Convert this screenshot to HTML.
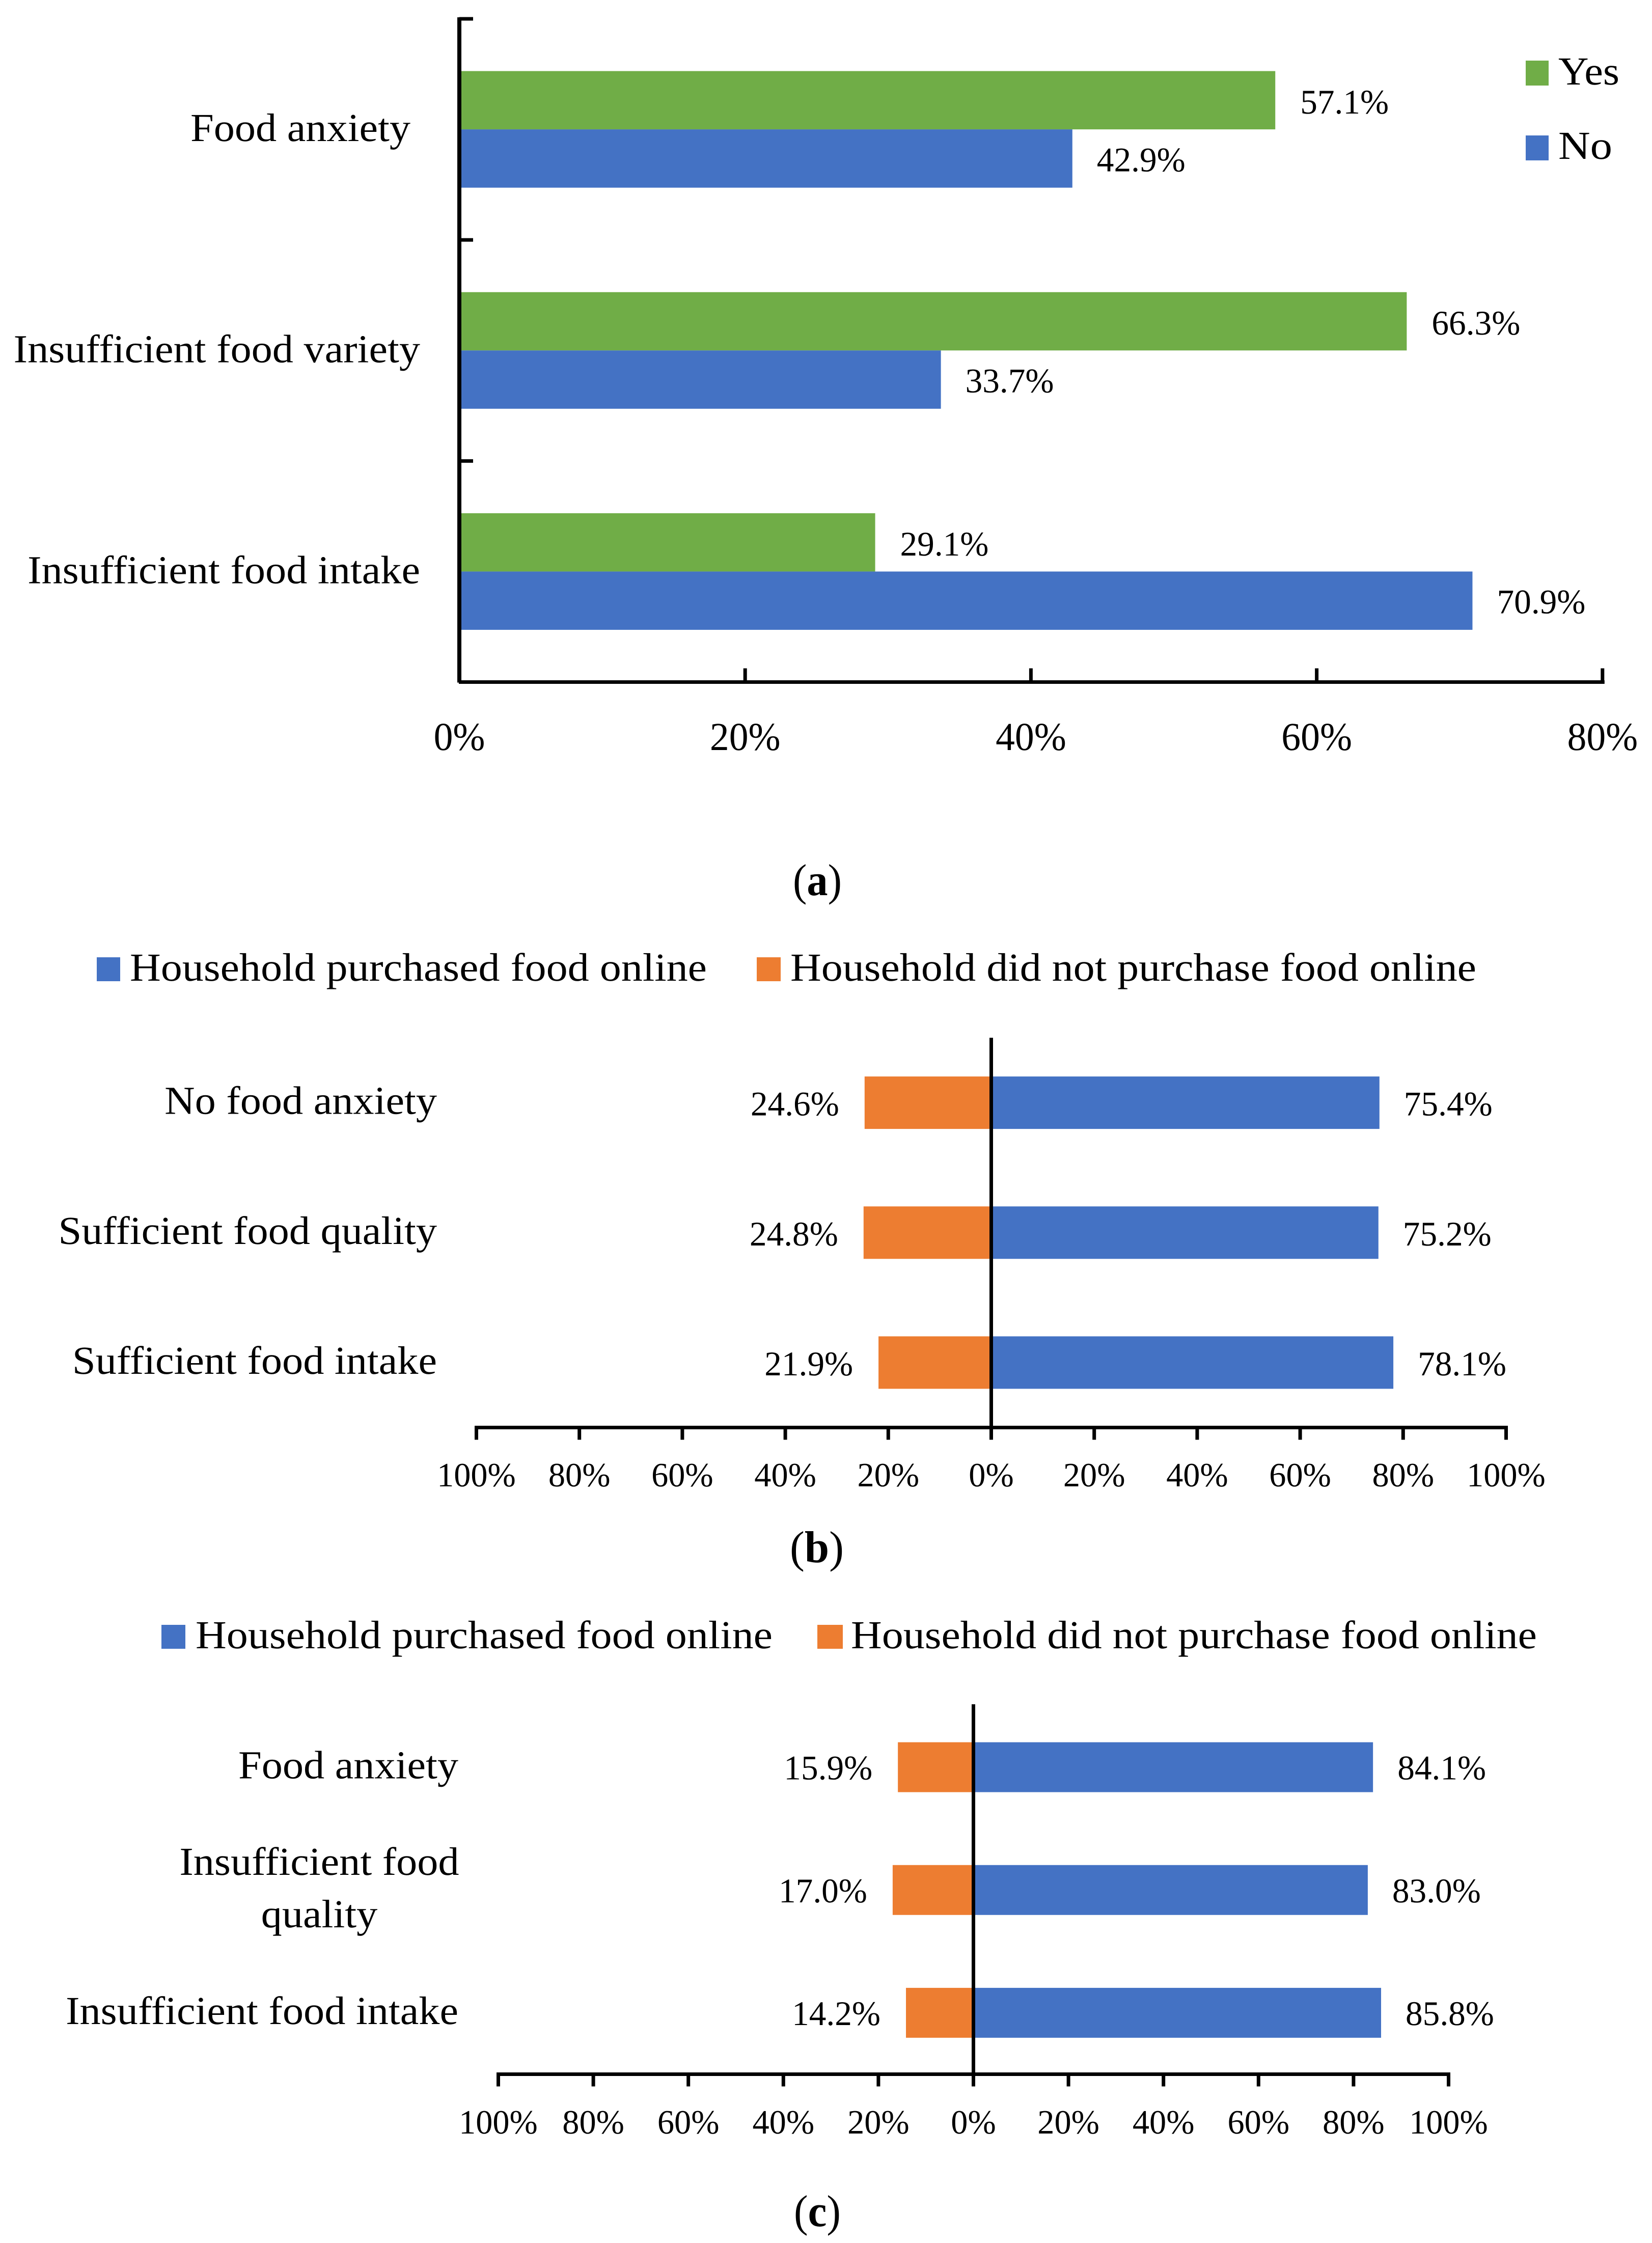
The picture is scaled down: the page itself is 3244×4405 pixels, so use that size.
<!DOCTYPE html>
<html lang="en">
<head>
<meta charset="utf-8">
<title>Food security and online food purchasing charts</title>
<style>
html,body{margin:0;padding:0;background:#fff;}
svg{display:block;}
text{font-family:"Liberation Serif","Noto Serif CJK SC",serif;fill:#000;text-rendering:geometricPrecision;}
</style>
</head>
<body>
<svg id="figure" xmlns="http://www.w3.org/2000/svg" width="3244" height="4405" viewBox="0 0 3244 4405">
  <rect width="3244" height="4405" fill="#fff"/>
  <g>
    <rect x="2996" y="119" width="45" height="49" fill="#70AD47"/>
    <text x="3060" y="166" font-size="78" textLength="120" lengthAdjust="spacingAndGlyphs">Yes</text>
    <rect x="2996" y="266" width="45" height="49" fill="#4472C4"/>
    <text x="3060" y="312" font-size="78" textLength="106" lengthAdjust="spacingAndGlyphs">No</text>
  </g>
  <text x="1557" y="1758" font-size="88" textLength="96" lengthAdjust="spacingAndGlyphs">(<tspan font-weight="700">a</tspan>)</text>
  <g>
    <rect x="190" y="1880" width="46" height="47" fill="#4472C4"/>
    <text x="255" y="1926" font-size="78" textLength="1133" lengthAdjust="spacingAndGlyphs">Household purchased food online</text>
    <rect x="1486" y="1880" width="47" height="47" fill="#ED7D31"/>
    <text x="1552" y="1926" font-size="78" textLength="1347" lengthAdjust="spacingAndGlyphs">Household did not purchase food online</text>
  </g>
  <text x="1551" y="3068" font-size="88" textLength="106" lengthAdjust="spacingAndGlyphs">(<tspan font-weight="700">b</tspan>)</text>
  <g>
    <rect x="317" y="3191" width="47" height="47" fill="#4472C4"/>
    <text x="384" y="3237" font-size="78" textLength="1133" lengthAdjust="spacingAndGlyphs">Household purchased food online</text>
    <rect x="1605" y="3191" width="50" height="47" fill="#ED7D31"/>
    <text x="1671" y="3237" font-size="78" textLength="1347" lengthAdjust="spacingAndGlyphs">Household did not purchase food online</text>
  </g>
  <text x="1559" y="4372" font-size="88" textLength="92" lengthAdjust="spacingAndGlyphs">(<tspan font-weight="700">c</tspan>)</text>
</svg>
<script>
// ---- Panel (a) data ----
const categoriesA = ['Food anxiety', 'Insufficient food variety', 'Insufficient food intake'];
const yesA = [57.1, 66.3, 29.1];
const noA = [42.9, 33.7, 70.9];
const tickValuesA = [0, 20, 40, 60, 80];
const tickLabelsA = ['0%', '20%', '40%', '60%', '80%'];

// ---- Panel (b) data ----
const categoriesB = ['No food anxiety', 'Sufficient food quality', 'Sufficient food intake'];
const purchasedB = [75.4, 75.2, 78.1];
const notPurchasedB = [24.6, 24.8, 21.9];

// ---- Panel (c) data ----
const categoriesC = ['Food anxiety', 'Insufficient food|quality', 'Insufficient food intake'];
const purchasedC = [84.1, 83.0, 85.8];
const notPurchasedC = [15.9, 17.0, 14.2];

// ---- Shared diverging axis ----
const tickValuesDiverging = [-100, -80, -60, -40, -20, 0, 20, 40, 60, 80, 100];
const tickLabelsDiverging = ['100%', '80%', '60%', '40%', '20%', '0%', '20%', '40%', '60%', '80%', '100%'];

const GREEN = '#70AD47', BLUE = '#4472C4', ORANGE = '#ED7D31';
const NS = 'http://www.w3.org/2000/svg';
const figure = document.getElementById('figure');

function shape(tag, attrs, parent) {
  const el = document.createElementNS(NS, tag);
  for (const k in attrs) el.setAttribute(k, attrs[k]);
  parent.appendChild(el);
  return el;
}

// Places text with a horizontal fit factor; anchor is resolved by hand so that textLength stays accurate.
function label(parent, str, x, y, size, anchor, fit) {
  const el = shape('text', { x: x, y: y, 'font-size': size }, parent);
  el.textContent = str;
  const natural = el.getComputedTextLength();
  const w = natural * fit;
  el.setAttribute('textLength', w.toFixed(1));
  el.setAttribute('lengthAdjust', 'spacingAndGlyphs');
  let left = x;
  if (anchor === 'end') left = x - w;
  if (anchor === 'middle') left = x - w / 2;
  el.setAttribute('x', left.toFixed(1));
  return el;
}

function pct(v) { return v.toFixed(1) + '%'; }

// ---------- Panel (a) ----------
(function drawPanelA() {
  const x0 = 902, unit = 28.06, top = 37, axisY = 1339.5, band = (axisY - top) / categoriesA.length, barH = 114.5;
  const catRight = 825, catShift = [19, 0, 0];
  const sx = v => x0 + v * unit;
  const g = shape('g', {}, figure);
  
  

  categoriesA.forEach((cat, i) => {
    const mid = top + band * (i + 0.5);
    const yes = shape('rect', { x: x0, y: mid - barH, width: sx(yesA[i]) - x0, height: barH, fill: GREEN }, g);
    
    
    const no = shape('rect', { x: x0, y: mid, width: sx(noA[i]) - x0, height: barH, fill: BLUE }, g);
    
    

    const yesVal = label(g, pct(yesA[i]), sx(yesA[i]) + 49, mid - barH / 2 + 26, 68, 'start', 0.99);
    
    
    const noVal = label(g, pct(noA[i]), sx(noA[i]) + 48, mid + barH / 2 + 25, 68, 'start', 0.99);
    
    

    const catLabel = label(g, cat, catRight - catShift[i], mid + 23, 78, 'end', 1.055);
    
    
  });

  const yAxis = shape('rect', { x: x0 - 4, y: top - 3, width: 8, height: axisY - top + 4, fill: '#000' }, g);
  
  
  const xAxis = shape('rect', { x: x0 - 1, y: axisY - 3.5, width: sx(80) - x0 + 5, height: 7, fill: '#000' }, g);
  
  

  for (let i = 0; i < categoriesA.length; i++) {
    const tick = shape('rect', { x: x0, y: top + band * i - 3.5, width: 27, height: 7, fill: '#000' }, g);
    
    
  }
  tickValuesA.forEach((v, i) => {
    if (v !== 0) {
      const tick = shape('rect', { x: sx(v) - 3.5, y: axisY - 27, width: 7, height: 27, fill: '#000' }, g);
      
      
    }
    const t = label(g, tickLabelsA[i], sx(v), 1473, 78, 'middle', 0.97);
    
    
  });
})();

// ---------- Panels (b) and (c) ----------
function drawDiverging(name, categories, purchased, notPurchased, layout) {
  const sx = v => layout.x0 + v * layout.unit;
  const band = (layout.axisY - layout.bandTop) / categories.length;
  const g = shape('g', {}, figure);
  
  

  categories.forEach((cat, i) => {
    const mid = layout.bandTop + band * (i + 0.5);
    const blue = shape('rect', { x: layout.x0, y: mid - layout.barH / 2, width: sx(purchased[i]) - layout.x0, height: layout.barH, fill: BLUE }, g);
    
    
    const orange = shape('rect', { x: sx(-notPurchased[i]), y: mid - layout.barH / 2, width: layout.x0 - sx(-notPurchased[i]), height: layout.barH, fill: ORANGE }, g);
    
    

    const rightVal = label(g, pct(purchased[i]), sx(purchased[i]) + 48, mid + layout.valueDrop, 68, 'start', 0.99);
    
    
    const leftVal = label(g, pct(notPurchased[i]), sx(-notPurchased[i]) - 50, mid + layout.valueDrop, 68, 'end', 0.99);
    
    

    const lines = cat.split('|');
    if (lines.length === 1) {
      const c = label(g, cat, layout.catRight, mid + 22, 78, 'end', 1.055);
      
      
    } else {
      const c1 = label(g, lines[0], layout.catRight - 273, mid - 30, 78, 'middle', 1.055);
      
      
      const c2 = label(g, lines[1], layout.catRight - 273, mid + 73, 78, 'middle', 1.055);
      
      
    }
  });

  const zero = shape('rect', { x: layout.x0 - 3.5, y: layout.lineTop, width: 7, height: layout.axisY + 24 - layout.lineTop, fill: '#000' }, g);
  
  
  const axis = shape('rect', { x: sx(-100) - 3.5, y: layout.axisY - 3.5, width: sx(100) - sx(-100) + 7, height: 7, fill: '#000' }, g);
  
  

  tickValuesDiverging.forEach((v, i) => {
    const tick = shape('rect', { x: sx(v) - 3.5, y: layout.axisY, width: 7, height: 24, fill: '#000' }, g);
    
    
    const t = label(g, tickLabelsDiverging[i], sx(v), layout.tickBase, 67, 'middle', 0.99);
    
    
  });
}

drawDiverging('chart-b', categoriesB, purchasedB, notPurchasedB, {
  x0: 1946.5, unit: 10.11, bandTop: 2038, lineTop: 2038, axisY: 2803.5, barH: 103, catRight: 858, tickBase: 2919, valueDrop: 25
});
drawDiverging('chart-c', categoriesC, purchasedC, notPurchasedC, {
  x0: 1911.5, unit: 9.33, bandTop: 3350, lineTop: 3347, axisY: 4073.5, barH: 98, catRight: 900, tickBase: 4190, valueDrop: 24
});
</script>
</body>
</html>
